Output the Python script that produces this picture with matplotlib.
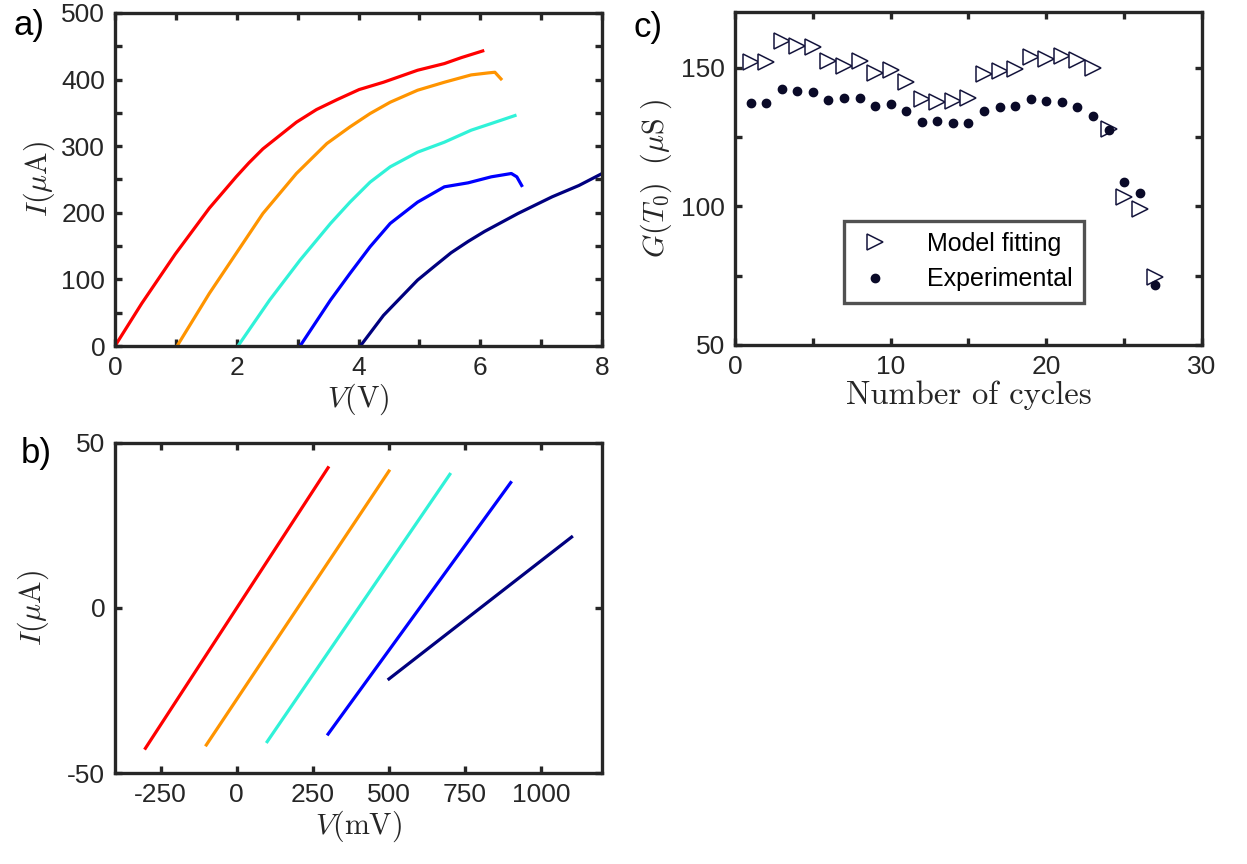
import numpy as np
import matplotlib
matplotlib.use("Agg")
import matplotlib.pyplot as plt

plt.rcParams['font.family'] = ['Liberation Sans', 'DejaVu Sans']
plt.rcParams['mathtext.fontset'] = 'cm'
plt.rcParams['axes.unicode_minus'] = False

# colours for the five sweeps (same order in a and b)
colors = ['#ff0000', '#ff9400', '#30f2d8', '#0000ff', '#00007f']

# a) large-bias I-V sweeps, V in volts, I in uA
a_v = [
    [0, 0.44, 0.99, 1.55, 1.99, 2.2, 2.43, 2.65, 2.98, 3.31, 3.65, 4.01, 4.41, 4.97, 5.41, 5.69, 6.04],
    [1.02, 1.55, 1.99, 2.43, 2.98, 3.48, 3.86, 4.19, 4.52, 4.97, 5.41, 5.85, 6.13, 6.24, 6.29, 6.34],
    [2.02, 2.54, 3.04, 3.54, 3.86, 4.19, 4.52, 4.97, 5.41, 5.85, 6.18, 6.57],
    [3.04, 3.54, 3.86, 4.19, 4.52, 4.97, 5.41, 5.80, 6.18, 6.51, 6.60, 6.68],
    [4.03, 4.41, 4.97, 5.25, 5.52, 5.8, 6.07, 6.62, 7.18, 7.62, 7.98],
]
a_i = [
    [0, 64, 138, 207, 254, 275, 296, 312, 336, 355, 370, 385, 396, 414, 424, 433, 443],
    [0, 79, 139, 199, 259, 304, 329, 349, 366, 384, 396, 407, 410, 411, 406, 401],
    [0, 69, 129, 184, 216, 246, 269, 291, 306, 324, 334, 346],
    [0, 69, 109, 149, 184, 216, 239, 245, 254, 259, 254, 241],
    [0, 46, 99, 120, 140, 157, 172, 199, 224, 241, 258],
]

# b) low-bias linear region, V in mV, I in uA
b_v = [[-300, 300], [-100, 500], [100, 700], [300, 900], [500, 1100]]
b_i = [[-42.5, 42.5], [-41.5, 41.5], [-40.5, 40.5], [-38.2, 38.0], [-21.5, 21.5]]

# c) conductance vs cycle number
cycles = np.arange(1, 28)
g_model = [151.9, 152.1, 159.5, 157.7, 157.5, 152.5, 150.7, 152.5, 147.9, 149.0,
           144.6, 138.7, 137.5, 137.9, 139.0, 147.6, 148.8, 149.3, 153.7, 152.9,
           154.3, 152.6, 149.8, 128.0, 103.3, 98.9, 74.5]
g_exp = [137.1, 137.1, 142.4, 141.4, 141.1, 138.3, 139.0, 139.0, 136.2, 137.0,
         134.5, 130.5, 130.6, 129.9, 130.0, 134.5, 135.8, 136.0, 138.6, 137.9,
         137.5, 135.7, 132.5, 127.4, 108.7, 104.6, 71.5]

spine_c = '#262626'
tick_fs = 19
label_fs = 21.5


def style_axes(ax):
    for s in ax.spines.values():
        s.set_linewidth(2.4)
        s.set_color(spine_c)
    ax.tick_params(which='both', direction='in', top=True, right=True,
                   width=2.4, length=5, color=spine_c, labelcolor=spine_c,
                   labelsize=tick_fs, pad=7)


fig = plt.figure(figsize=(12.47, 8.64), dpi=100)

ax_a = fig.add_axes([0.0922, 0.5995, 0.3906, 0.3855])
for v, i, c in zip(a_v, a_i, colors):
    ax_a.plot(v, i, color=c, lw=2.3)
ax_a.set_xlim(0, 8)
ax_a.set_ylim(0, 500)
ax_a.set_xticks([0, 2, 4, 6, 8])
ax_a.set_xticks([1, 3, 5, 7], minor=True)
ax_a.set_yticks([0, 100, 200, 300, 400, 500])
ax_a.set_yticks([50, 150, 250, 350, 450], minor=True)
style_axes(ax_a)
ax_a.set_xlabel(r'$V(\mathrm{V})$', fontsize=label_fs, color=spine_c, labelpad=1)
ax_a.set_ylabel(r'$I(\mu\mathrm{A})$', fontsize=label_fs, color=spine_c, labelpad=3)

ax_b = fig.add_axes([0.0922, 0.1053, 0.3906, 0.382])
for v, i, c in zip(b_v, b_i, colors):
    ax_b.plot(v, i, color=c, lw=2.3)
ax_b.set_xlim(-400, 1200)
ax_b.set_ylim(-50, 50)
ax_b.set_xticks([-250, 0, 250, 500, 750, 1000])
ax_b.set_yticks([-50, 0, 50])
style_axes(ax_b)
ax_b.set_xlabel(r'$V(\mathrm{mV})$', fontsize=label_fs, color=spine_c, labelpad=1)
ax_b.set_ylabel(r'$I(\mu\mathrm{A})$', fontsize=label_fs, color=spine_c, labelpad=12)

ax_c = fig.add_axes([0.5894, 0.6007, 0.3745, 0.3854])
ax_c.plot(cycles, g_model, linestyle='none', marker='>', markersize=11,
          markerfacecolor='white', markeredgecolor='#14143c', markeredgewidth=1.1,
          label='Model fitting')
ax_c.plot(cycles, g_exp, linestyle='none', marker='o', markersize=6,
          color='#0a0a28', label='Experimental')
ax_c.set_xlim(0, 30)
ax_c.set_ylim(50, 170)
ax_c.set_xticks([0, 10, 20, 30])
ax_c.set_xticks([5, 15, 25], minor=True)
ax_c.set_yticks([50, 100, 150])
ax_c.set_yticks([75, 125], minor=True)
style_axes(ax_c)
ax_c.set_xlabel('Number of cycles', fontsize=23.5, color=spine_c, labelpad=1)
ax_c.xaxis.label.set_fontfamily(['cmr10', 'DejaVu Serif'])
ax_c.set_ylabel(r'$G(T_0)\ \ (\mu\mathrm{S}\ )$', fontsize=label_fs, color=spine_c, labelpad=5)
leg = ax_c.legend(loc='center', bbox_to_anchor=(0.49, 0.25), fontsize=18,
                  frameon=True, fancybox=False, borderpad=0.45, handletextpad=1.3,
                  labelspacing=0.45, handlelength=1.6)
leg.get_frame().set_edgecolor(spine_c)
leg.get_frame().set_linewidth(2.4)

fig.text(0.011, 0.971, 'a)', fontsize=25, va='center')
fig.text(0.017, 0.475, 'b)', fontsize=25, va='center')
fig.text(0.508, 0.968, 'c)', fontsize=25, va='center')

fig.savefig('out.png', dpi=100)
